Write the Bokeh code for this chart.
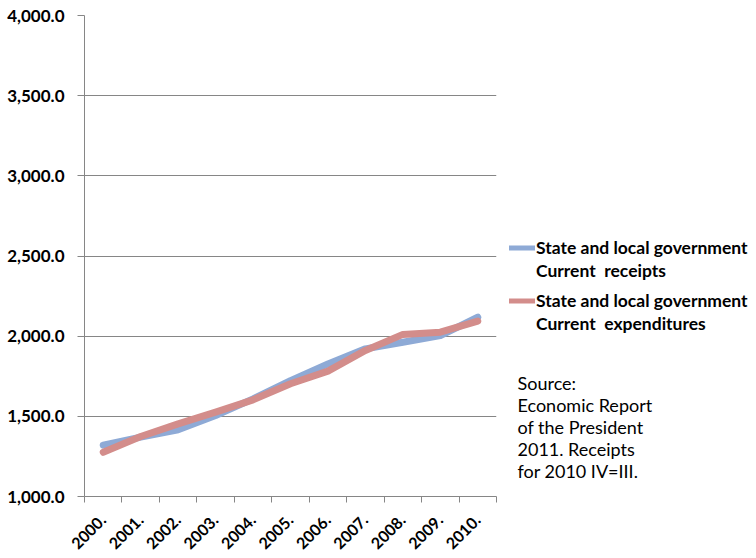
import math
from bokeh.plotting import figure
from bokeh.layouts import row
from bokeh.models import (FixedTicker, NumeralTickFormatter, Range1d, Legend, LegendItem, Label)
from bokeh.embed import file_html
from bokeh.resources import INLINE

years = ["2000.", "2001.", "2002.", "2003.", "2004.", "2005.", "2006.", "2007.", "2008.", "2009.", "2010."]
receipts = [1320, 1370, 1416, 1505, 1609, 1723, 1827, 1921, 1962, 2004, 2118]
expenditures = [1276, 1374, 1453, 1526, 1603, 1703, 1782, 1911, 2011, 2025, 2094]
y_ticks = [1000, 1500, 2000, 2500, 3000, 3500, 4000]
series_line1 = ["State and local government", "State and local government"]
series_line2 = ["Current  receipts", "Current  expenditures"]
source_text = "Source:\nEconomic Report\nof the President\n2011. Receipts\nfor 2010 IV=III."

xpos = [i + 0.5 for i in range(len(years))]

FONT = "Lato"
GRID = "#868686"
BLUE = "#8EAAD6"
RED = "#D38D8B"

p = figure(width=502, height=558, output_backend="svg", toolbar_location=None,
           x_range=Range1d(0, len(years)), y_range=Range1d(1000, 4000),
           min_border_left=84, min_border_right=6, min_border_top=15, min_border_bottom=62)
p.outline_line_color = None

r1 = p.line(xpos, receipts, line_color=BLUE, line_width=7, line_join="round", line_cap="round")
r2 = p.line(xpos, expenditures, line_color=RED, line_width=7, line_join="round", line_cap="round")

# x axis
p.xaxis.ticker = FixedTicker(ticks=xpos, minor_ticks=list(range(len(years) + 1)))
p.xaxis.major_label_overrides = {x: y for x, y in zip(xpos, years)}
p.xaxis.major_tick_line_color = None
p.xaxis.minor_tick_line_color = GRID
p.xaxis.minor_tick_out = 6
p.xaxis.minor_tick_in = 0
p.xaxis.axis_line_color = GRID
p.xaxis.major_label_orientation = math.pi / 4
p.xaxis.major_label_text_font = FONT
p.xaxis.major_label_text_font_style = "bold"
p.xaxis.major_label_text_font_size = "16px"
p.xaxis.major_label_text_color = "black"
p.xaxis.major_label_standoff = 15
p.xgrid.grid_line_color = None

# y axis
p.yaxis.ticker = FixedTicker(ticks=y_ticks, minor_ticks=[])
p.yaxis.formatter = NumeralTickFormatter(format="0,0.0")
p.yaxis.major_tick_line_color = GRID
p.yaxis.major_tick_out = 7
p.yaxis.major_tick_in = 0
p.yaxis.minor_tick_line_color = None
p.yaxis.axis_line_color = GRID
p.yaxis.major_label_text_font = FONT
p.yaxis.major_label_text_font_style = "bold"
p.yaxis.major_label_text_font_size = "17px"
p.yaxis.major_label_text_color = "black"
p.yaxis.major_label_standoff = 13
p.ygrid.grid_line_color = GRID
p.ygrid.grid_line_width = 1

# side panel holding the legend and the source note (frame aligned with p's frame)
side = figure(width=254, height=558, output_backend="svg", toolbar_location=None,
              x_range=Range1d(0, 1), y_range=Range1d(0, 1),
              min_border=0)
side.axis.visible = False
side.grid.visible = False
side.outline_line_color = None
k1 = side.line([5, 6], [5, 6], line_color=BLUE, line_width=5, line_cap="round")
k2 = side.line([5, 6], [5, 6], line_color=RED, line_width=5, line_cap="round")
blank = side.line([5, 6], [5, 6], line_alpha=0)


def make_legend(key, idx, y):
    lg = Legend(items=[
        LegendItem(label=series_line1[idx], renderers=[key]),
        LegendItem(label=series_line2[idx], renderers=[blank]),
    ], location=(7, y))
    lg.label_text_font = FONT
    lg.label_text_font_style = "bold"
    lg.label_text_font_size = "17.5px"
    lg.label_text_color = "black"
    lg.glyph_width = 26
    lg.glyph_height = 23
    lg.label_height = 23
    lg.label_standoff = 1
    lg.spacing = 0
    lg.padding = 0
    lg.margin = 0
    lg.border_line_color = None
    lg.background_fill_alpha = 0
    return lg


side.add_layout(make_legend(k1, 0, 214), "center")
side.add_layout(make_legend(k2, 1, 161), "center")

src = Label(x=15, y=125, x_units="screen", y_units="screen",
            text=source_text, text_baseline="top",
            text_font=FONT, text_font_size="18px", text_color="black",
            text_line_height=1.0)
side.add_layout(src)

open("out.html", "w").write(file_html(row(p, side), INLINE))
